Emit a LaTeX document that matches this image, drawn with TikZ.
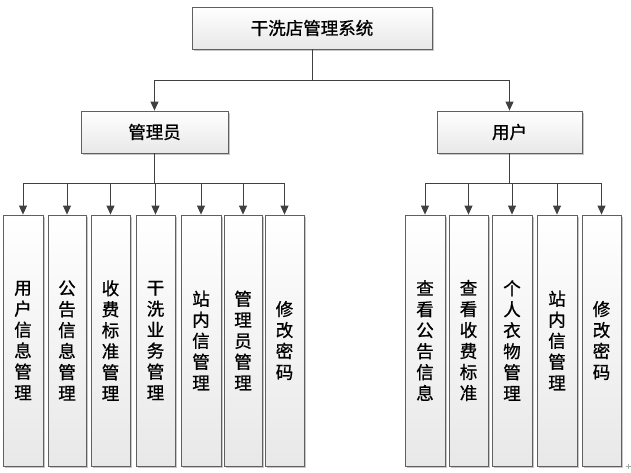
\documentclass[tikz,border=0pt]{standalone}
\usepackage{fontspec}
\newfontfamily\cjk[FakeBold=0.9]{Noto Sans CJK SC}
\usetikzlibrary{shadows,arrows.meta}
\tikzset{
  box/.style={draw=gray!75!black, line width=0.8pt, top color=white, bottom color=gray!18,
    drop shadow={shadow xshift=1.6pt, shadow yshift=-1.6pt, fill=gray!55, opacity=0.8},
    font=\cjk\fontsize{17.5}{21}\selectfont, inner sep=0pt, align=center},
  col/.style={box, minimum height=251pt},
  conn/.style={draw=black!75, line width=0.9pt},
  stem/.style={draw=black!75, line width=1.6pt},
  arr/.style={conn, -{Triangle[length=9pt,width=8pt]}}
}
\begin{document}
\begin{tikzpicture}[x=1pt,y=-1pt]
\useasboundingbox (0,0) rectangle (631,473);
% top level
\node[box, minimum width=240pt, minimum height=42pt] (top) at (312,28) {干洗店管理系统};
\node[box, minimum width=147pt, minimum height=42pt] (admin) at (154.5,132) {管理员};
\node[box, minimum width=145pt, minimum height=42pt] (user) at (509.5,132) {用户};
\coordinate (bus) at (312,80);
\draw[conn] (top.south) -- (bus);
\draw[arr] (bus) -| (admin.north);
\draw[arr] (bus) -| (user.north);
% admin columns
\node[col, minimum width=40pt] (a1) at (23,340.5) {用\\户\\信\\息\\管\\理};
\node[col, minimum width=38pt] (a2) at (67,340.5) {公\\告\\信\\息\\管\\理};
\node[col, minimum width=39pt] (a3) at (110.5,340.5) {收\\费\\标\\准\\管\\理};
\node[col, minimum width=39pt] (a4) at (155.5,340.5) {干\\洗\\业\\务\\管\\理};
\node[col, minimum width=40pt] (a5) at (201,340.5) {站\\内\\信\\管\\理};
\node[col, minimum width=38pt] (a6) at (243,340.5) {管\\理\\员\\管\\理};
\node[col, minimum width=39pt] (a7) at (284.5,340.5) {修\\改\\密\\码};
\draw[stem] (admin.south) -- ++(0,30) coordinate (lb);
\foreach \n in {a1,a2,a3,a4,a5,a6,a7}{
  \draw[arr] (lb) -| (\n.north);
}
% user columns
\node[col, minimum width=40pt] (u1) at (425,340.5) {查\\看\\公\\告\\信\\息};
\node[col, minimum width=39pt] (u2) at (468.5,340.5) {查\\看\\收\\费\\标\\准};
\node[col, minimum width=40pt] (u3) at (512,340.5) {个\\人\\衣\\物\\管\\理};
\node[col, minimum width=40pt] (u4) at (557,340.5) {站\\内\\信\\管\\理};
\node[col, minimum width=39pt] (u5) at (601.5,340.5) {修\\改\\密\\码};
\draw[stem] (user.south) -- ++(0,30) coordinate (rb);
\foreach \n in {u1,u2,u3,u4,u5}{
  \draw[arr] (rb) -| (\n.north);
}
% small mark
\draw[gray!70, line width=0.6pt] (625.5,466) -- (630.5,466) (628,463.5) -- (628,468.5);
\end{tikzpicture}
\end{document}
